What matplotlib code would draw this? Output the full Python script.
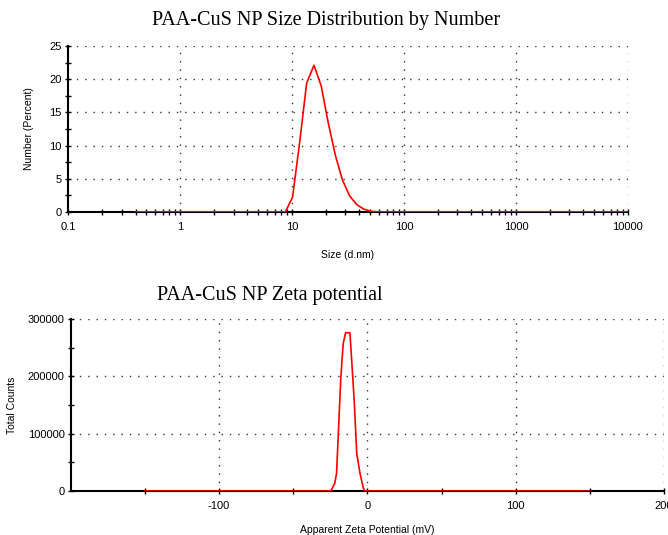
import matplotlib
matplotlib.use("Agg")
import matplotlib.pyplot as plt
from matplotlib.ticker import FixedLocator, NullFormatter

plt.rcParams["axes.unicode_minus"] = False

# размер частиц (d.nm) и доля по числу (%)
size_nm = [0.4, 8.72, 10.1, 11.7, 13.5, 15.7, 18.2, 21.0, 24.4, 28.2,
           32.7, 37.8, 43.8, 50.7, 58.8, 10000]
number_pct = [0, 0, 2.2, 10.5, 19.4, 22.1, 19.0, 13.5, 8.5, 4.8,
              2.4, 1.1, 0.4, 0.1, 0, 0]

# дзета-потенциал (mV) и общее число отсчётов
zeta_mv = [-150, -24.7, -22.0, -20.8, -19.6, -17.9, -16.3, -14.7, -11.8,
           -10.6, -8.8, -7.2, -5.0, -2.7, -1.6, 150]
zeta_counts = [0, 0, 13400, 30900, 100600, 199400, 257600, 276100, 276100,
               228500, 153000, 65800, 30900, 4700, 0, 0]

SANS = "Liberation Sans"
SERIF = "Liberation Serif"
DOT = (0, (1, 5))
GRID = "#333333"

fig = plt.figure(figsize=(6.68, 5.35), dpi=100)

# --- распределение по размерам ---
ax1 = fig.add_axes([0.102, 0.604, 0.838, 0.310])
ax1.plot(size_nm, number_pct, color="#ff0000", lw=1.2, zorder=3)
ax1.set_xscale("log")
ax1.set_xlim(0.1, 10000)
ax1.set_ylim(0, 25)
ax1.set_xticks([0.1, 1, 10, 100, 1000, 10000])
ax1.set_xticklabels(["0.1", "1", "10", "100", "1000", "10000"])
ax1.xaxis.set_minor_locator(FixedLocator(
    [m * 10.0 ** e for e in range(-1, 4) for m in range(2, 10)]))
ax1.xaxis.set_minor_formatter(NullFormatter())
ax1.set_yticks([0, 5, 10, 15, 20, 25])
ax1.yaxis.set_minor_locator(FixedLocator([2.5, 7.5, 12.5, 17.5, 22.5]))
ax1.set_xlabel("Size (d.nm)", fontsize=7.5, family=SANS, labelpad=13)
ax1.set_ylabel("Number (Percent)", fontsize=7.5, family=SANS, labelpad=11)
ax1.set_title("PAA-CuS NP Size Distribution by Number", fontsize=14.5,
              family=SERIF, pad=15, x=0.46)
for x in [1, 10, 100, 1000, 10000]:
    ax1.axvline(x, color=GRID, lw=1, ls=DOT, zorder=1)
for y in [5, 10, 15, 20, 25]:
    ax1.axhline(y, color=GRID, lw=1, ls=DOT, zorder=1)

# --- дзета-потенциал ---
ax2 = fig.add_axes([0.106, 0.0822, 0.888, 0.3215])
ax2.plot(zeta_mv, zeta_counts, color="#ff0000", lw=1.2, zorder=3)
ax2.set_xlim(-200, 200)
ax2.set_ylim(0, 300000)
ax2.set_xticks([-100, 0, 100, 200])
ax2.xaxis.set_minor_locator(FixedLocator([-150, -50, 50, 150]))
ax2.set_yticks([0, 100000, 200000, 300000])
ax2.yaxis.set_minor_locator(FixedLocator([50000, 150000, 250000]))
ax2.set_xlabel("Apparent Zeta Potential (mV)", fontsize=7.5, family=SANS,
               labelpad=10)
ax2.set_ylabel("Total Counts", fontsize=7.5, family=SANS, labelpad=8)
ax2.set_title("PAA-CuS NP Zeta potential", fontsize=14.5, family=SERIF,
              pad=14, x=0.335)
for x in [-100, 0, 100, 200]:
    ax2.axvline(x, color=GRID, lw=1, ls=DOT, zorder=1)
for y in [100000, 200000, 300000]:
    ax2.axhline(y, color=GRID, lw=1, ls=DOT, zorder=1)

for ax in (ax1, ax2):
    for side in ("top", "right"):
        ax.spines[side].set_visible(False)
    ax.spines["left"].set_linewidth(1.5)
    ax.spines["bottom"].set_linewidth(1.5)
    ax.tick_params(axis="x", which="both", direction="inout", length=4,
                   width=1, pad=5)
    ax.tick_params(axis="y", which="both", direction="inout", length=5,
                   width=1, pad=2)
    for lab in ax.get_xticklabels() + ax.get_yticklabels():
        lab.set_family(SANS)
        lab.set_fontsize(8)
    ax.set_facecolor("white")

fig.savefig("out.png", dpi=100, facecolor="white")
